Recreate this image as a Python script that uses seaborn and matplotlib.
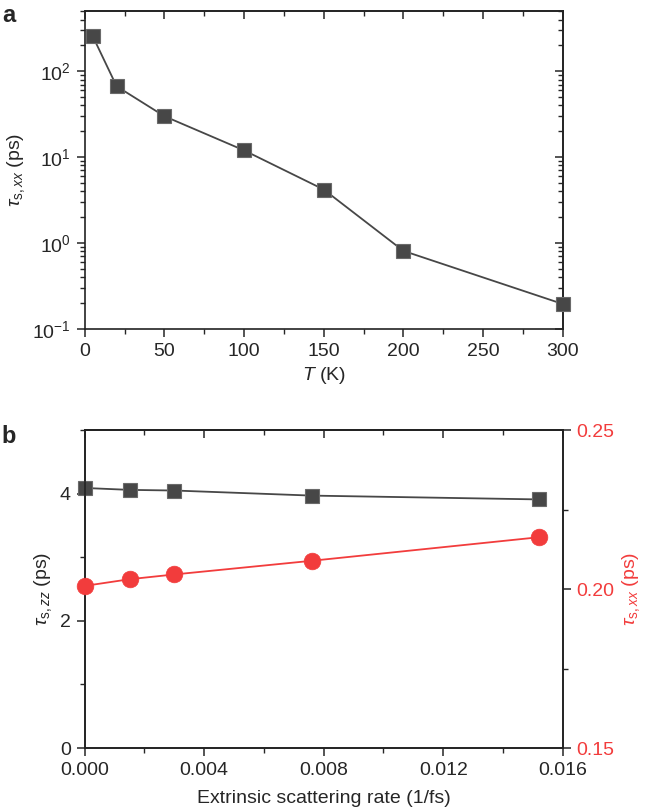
import numpy as np
import pandas as pd
import matplotlib
matplotlib.use("Agg")
import matplotlib.pyplot as plt
import seaborn as sns
from matplotlib.ticker import MultipleLocator, LogLocator, NullFormatter, FormatStrFormatter

# ---- data ----
T_K = [5, 20, 50, 100, 150, 200, 300]
tau_xx_T = [257, 67, 30, 12, 4.2, 0.81, 0.195]

rate = [0.0, 0.0015, 0.003, 0.0076, 0.0152]
tau_zz = [4.09, 4.06, 4.05, 3.97, 3.91]
tau_xx_rate = [0.2010, 0.2031, 0.2046, 0.2089, 0.2163]

sns.set_theme(style="ticks")
plt.rcParams['font.family'] = ['Liberation Sans', 'DejaVu Sans']
plt.rcParams['mathtext.fontset'] = 'custom'
plt.rcParams['mathtext.rm'] = 'Liberation Sans'
plt.rcParams['mathtext.it'] = 'Liberation Sans:italic'
plt.rcParams['axes.linewidth'] = 1.2

DARK = '#474747'
RED = '#f23c3c'
FS = 14
MAJ, MIN = 6, 3.5


def style_ticks(ax, direction='out', **kw):
    ax.tick_params(which='both', direction=direction, labelsize=FS, **kw)
    ax.tick_params(which='major', length=MAJ, width=1.1, pad=4)
    ax.tick_params(which='minor', length=MIN, width=1.0)


fig = plt.figure(figsize=(6.52, 8.10), dpi=100)
axa = fig.add_axes([0.130, 0.594, 0.733, 0.392])
axb = fig.add_axes([0.130, 0.0765, 0.733, 0.3925])

# ---- panel a ----
dfa = pd.DataFrame({'T': T_K, 'tau': tau_xx_T})
sns.lineplot(data=dfa, x='T', y='tau', ax=axa, color=DARK, marker='s',
             markersize=10.5, markeredgecolor='#6a6a6a', markeredgewidth=0.8,
             linewidth=1.3, clip_on=False, zorder=5)
axa.set_yscale('log')
axa.set_xlim(0, 300)
axa.set_ylim(0.1, 500)
axa.xaxis.set_major_locator(MultipleLocator(50))
axa.xaxis.set_minor_locator(MultipleLocator(25))
axa.yaxis.set_major_locator(LogLocator(base=10, numticks=10))
axa.yaxis.set_minor_locator(LogLocator(base=10, subs=np.arange(2, 10), numticks=20))
axa.yaxis.set_minor_formatter(NullFormatter())
axa.set_xlabel(r'$T$ (K)', fontsize=FS)
axa.set_ylabel(r'$\tau_{\mathrm{s},xx}$ (ps)', fontsize=FS)
style_ticks(axa)
for sp in axa.spines.values():
    sp.set_visible(True)
    sp.set_color('#222222')

topa = axa.secondary_xaxis('top')
topa.xaxis.set_major_locator(MultipleLocator(50))
topa.xaxis.set_minor_locator(MultipleLocator(25))
style_ticks(topa, direction='in', labeltop=False)
righta = axa.secondary_yaxis('right')
righta.yaxis.set_major_locator(LogLocator(base=10, numticks=10))
righta.yaxis.set_minor_locator(LogLocator(base=10, subs=np.arange(2, 10), numticks=20))
style_ticks(righta, direction='in', labelright=False)
fig.text(0.003, 0.995, 'a', fontsize=17, fontweight='bold', va='top', ha='left')

# ---- panel b ----
dfb = pd.DataFrame({'rate': rate, 'zz': tau_zz, 'xx': tau_xx_rate})
sns.lineplot(data=dfb, x='rate', y='zz', ax=axb, color=DARK, marker='s',
             markersize=10.5, markeredgecolor='#6a6a6a', markeredgewidth=0.8,
             linewidth=1.3, clip_on=False, zorder=5)
axb.set_xlim(0, 0.016)
axb.set_ylim(0, 5)
axb.xaxis.set_major_locator(MultipleLocator(0.004))
axb.xaxis.set_minor_locator(MultipleLocator(0.002))
axb.xaxis.set_major_formatter(FormatStrFormatter('%.3f'))
axb.yaxis.set_major_locator(MultipleLocator(2))
axb.yaxis.set_minor_locator(MultipleLocator(1))
axb.set_xlabel('Extrinsic scattering rate (1/fs)', fontsize=FS, labelpad=8)
axb.set_ylabel(r'$\tau_{\mathrm{s},zz}$ (ps)', fontsize=FS)
style_ticks(axb)
for sp in axb.spines.values():
    sp.set_visible(True)
    sp.set_color('#222222')

topb = axb.secondary_xaxis('top')
topb.xaxis.set_major_locator(MultipleLocator(0.004))
topb.xaxis.set_minor_locator(MultipleLocator(0.002))
style_ticks(topb, direction='in', labeltop=False)

axr = axb.twinx()
sns.lineplot(data=dfb, x='rate', y='xx', ax=axr, color=RED, marker='o',
             markersize=12, markeredgecolor=RED, markeredgewidth=0.5,
             linewidth=1.3, clip_on=False, zorder=5)
axr.set_ylim(0.15, 0.25)
axr.yaxis.set_major_locator(MultipleLocator(0.05))
axr.yaxis.set_minor_locator(MultipleLocator(0.025))
axr.yaxis.set_major_formatter(FormatStrFormatter('%.2f'))
axr.set_ylabel(r'$\tau_{\mathrm{s},xx}$ (ps)', fontsize=FS, color=RED)
style_ticks(axr, labelcolor=RED)
axr.set_xlim(0, 0.016)
for sp in axr.spines.values():
    sp.set_color('#222222')
fig.text(0.003, 0.475, 'b', fontsize=17, fontweight='bold', va='top', ha='left')

fig.savefig('out.png', dpi=100)
